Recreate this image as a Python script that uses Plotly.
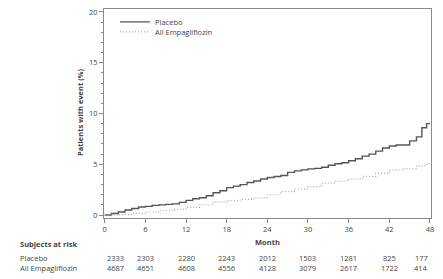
import plotly.graph_objects as go

# ---- data ----
placebo_month = [0, 1, 2, 3, 4, 5, 6, 7, 8, 9, 10, 11, 12, 13, 14, 15, 16, 17, 18, 19, 20,
                 21, 22, 23, 24, 25, 26, 27, 28, 29, 30, 31, 32, 33, 34, 35, 36, 37, 38,
                 39, 40, 41, 42, 43, 44, 45, 46, 46.8, 47.5, 48]
placebo_pct = [0, 0.15, 0.3, 0.5, 0.65, 0.8, 0.85, 0.95, 1.0, 1.05, 1.1, 1.25, 1.45, 1.6,
               1.7, 1.9, 2.2, 2.4, 2.7, 2.85, 3.0, 3.2, 3.35, 3.55, 3.7, 3.8, 3.9, 4.2, 4.35,
               4.45, 4.55, 4.6, 4.7, 4.9, 5.05, 5.15, 5.35, 5.55, 5.8, 6.0, 6.3, 6.6, 6.8,
               6.9, 6.9, 7.3, 7.7, 8.6, 9.0, 9.0]
empa_month = [0, 2, 4, 6, 8, 10, 12, 14, 16, 18, 20, 22, 24, 26, 28, 30, 32, 34, 36, 38,
              40, 42, 44, 46, 47.5, 48]
empa_pct = [0, 0.05, 0.17, 0.3, 0.45, 0.55, 0.75, 1.0, 1.3, 1.42, 1.55, 1.7, 2.0, 2.3,
            2.55, 2.8, 3.15, 3.35, 3.55, 3.8, 4.1, 4.45, 4.55, 4.85, 5.05, 5.05]

risk_months = [0, 6, 12, 18, 24, 30, 36, 42, 48]
risk_placebo = [2333, 2303, 2280, 2243, 2012, 1503, 1281, 825, 177]
risk_empa = [4687, 4651, 4608, 4556, 4128, 3079, 2617, 1722, 414]
series_names = ["Placebo", "All Empagliflozin"]

FONT = "Open Sans"
TXT = "#444444"
AX = "#8a8a8a"

# plot area geometry (pixels)
W, H = 443, 279
L, R, T, B = 104, 12, 7, 61
PH = H - T - B
PW = W - L - R


def py(p):
    return (H - B - p) / PH


def px(p):
    return (p - L) / PW


fig = go.Figure()
fig.add_trace(go.Scatter(x=placebo_month, y=placebo_pct, mode="lines", name=series_names[0],
                         legend="legend",
                         line=dict(color="#555555", width=1.4, shape="hv")))
fig.add_trace(go.Scatter(x=empa_month, y=empa_pct, mode="lines", name=series_names[1],
                         legend="legend2",
                         line=dict(color="#aaaaaa", width=1.2, dash="1px,2px", shape="hv")))

ann = []
ann.append(dict(x=24, y=py(242), xref="x", yref="paper", text="<b>Month</b>",
                showarrow=False, font=dict(size=7.5, color=TXT, family=FONT),
                xanchor="center", yanchor="middle"))
ann.append(dict(x=px(18), y=py(244), xref="paper", yref="paper",
                text="<b>Subjects at risk</b>", showarrow=False,
                font=dict(size=7.5, color=TXT, family=FONT), xanchor="left", yanchor="middle"))
for name, vals, yy in [(series_names[0], risk_placebo, 258), (series_names[1], risk_empa, 268)]:
    ann.append(dict(x=px(18), y=py(yy), xref="paper", yref="paper",
                    text=name, showarrow=False, font=dict(size=7.5, color=TXT, family=FONT),
                    xanchor="left", yanchor="middle"))
    for i, (m, v) in enumerate(zip(risk_months, vals)):
        xa = "left" if i == 0 else ("right" if i == len(vals) - 1 else "center")
        ann.append(dict(x=m, y=py(yy), xref="x", yref="paper", text=str(v),
                        showarrow=False, font=dict(size=7.5, color=TXT, family=FONT),
                        xanchor=xa, yanchor="middle"))
ann.append(dict(x=px(80), y=py(112), xref="paper", yref="paper",
                text="<b>Patients with event (%)</b>", textangle=-90, showarrow=False,
                font=dict(size=7.5, color=TXT, family=FONT), xanchor="center", yanchor="middle"))

leg_common = dict(xanchor="left", yanchor="middle", bgcolor="rgba(0,0,0,0)",
                  font=dict(size=7.5, color=TXT, family=FONT), itemwidth=30)

fig.update_layout(
    width=W, height=H, margin=dict(l=L, r=R, t=T, b=B),
    paper_bgcolor="white", plot_bgcolor="white",
    font=dict(family=FONT, size=7.5, color=TXT),
    showlegend=True,
    legend=dict(x=px(115), y=py(20), **leg_common),
    legend2=dict(x=px(115), y=py(30), **leg_common),
    annotations=ann,
)
fig.update_xaxes(range=[-0.1, 48.15], tickvals=risk_months, ticks="outside", ticklen=4,
                 tickcolor=AX, showline=True, linecolor=AX, linewidth=1, mirror=True,
                 showgrid=False, zeroline=False, tickfont=dict(size=7.5, color=TXT))
fig.update_yaxes(range=[-0.29, 20.29], tickvals=[0, 5, 10, 15, 20], ticks="outside", ticklen=4,
                 tickcolor=AX, showline=True, linecolor=AX, linewidth=1, mirror=True,
                 showgrid=False, zeroline=False, tickfont=dict(size=7.5, color=TXT),
                 minor=dict(dtick=1, ticks="outside", ticklen=2, tickcolor=AX, showgrid=False))

fig.write_html("out.html")
